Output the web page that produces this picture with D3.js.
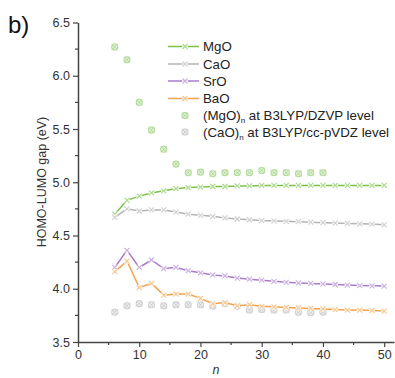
<!DOCTYPE html>
<html>
<head>
<meta charset="utf-8">
<script src="https://cdn.jsdelivr.net/npm/d3@7"></script>
<style>
  body { margin: 0; background: #fff; }
  svg { display: block; font-family: "Liberation Sans", Arial, sans-serif; }
</style>
</head>
<body>
<div id="chart"></div>
<script>
// n values (every 2 from 6 to 50)
const nLine = d3.range(6, 51, 2);
const mgo = [4.70, 4.83, 4.87, 4.90, 4.92, 4.94, 4.95, 4.955, 4.96, 4.96, 4.965, 4.965, 4.97, 4.97, 4.97, 4.97, 4.97, 4.97, 4.97, 4.97, 4.97, 4.97, 4.97];
const cao = [4.67, 4.75, 4.73, 4.74, 4.74, 4.72, 4.70, 4.69, 4.68, 4.665, 4.655, 4.648, 4.64, 4.636, 4.633, 4.63, 4.625, 4.62, 4.617, 4.613, 4.61, 4.607, 4.60];
const sro = [4.20, 4.36, 4.20, 4.27, 4.19, 4.20, 4.17, 4.15, 4.13, 4.12, 4.10, 4.09, 4.08, 4.07, 4.06, 4.055, 4.05, 4.045, 4.04, 4.035, 4.03, 4.027, 4.025];
const bao = [4.16, 4.26, 4.01, 4.05, 3.94, 3.95, 3.95, 3.91, 3.86, 3.87, 3.84, 3.85, 3.835, 3.83, 3.825, 3.82, 3.815, 3.81, 3.805, 3.80, 3.80, 3.795, 3.79];

// reference DFT points, n = 6..40
const nRef = d3.range(6, 41, 2);
const mgoRef = [6.27, 6.15, 5.75, 5.49, 5.31, 5.17, 5.09, 5.095, 5.08, 5.09, 5.09, 5.09, 5.11, 5.09, 5.09, 5.08, 5.09, 5.09];
const caoRef = [3.78, 3.84, 3.86, 3.85, 3.84, 3.85, 3.85, 3.85, 3.836, 3.86, 3.836, 3.80, 3.805, 3.80, 3.80, 3.78, 3.776, 3.78];

const lineSeries = [
  { name: 'MgO', values: mgo, color: '#7cc24a', mark: '#a9d98a' },
  { name: 'CaO', values: cao, color: '#b4b4b4', mark: '#cfcfcf' },
  { name: 'SrO', values: sro, color: '#a77cc8', mark: '#c9aee0' },
  { name: 'BaO', values: bao, color: '#f5a24c', mark: '#f8c48c' }
];
const refSeries = [
  { label: ['(MgO)', 'n', ' at B3LYP/DZVP level'], values: mgoRef, color: '#cfe8bf', stroke: '#a8d58c' },
  { label: ['(CaO)', 'n', ' at B3LYP/cc-pVDZ level'], values: caoRef, color: '#e2e2e2', stroke: '#c8c8c8' }
];

const xTicks = [0, 10, 20, 30, 40, 50];
const yTicks = [3.5, 4.0, 4.5, 5.0, 5.5, 6.0, 6.5];

const W = 395, H = 378;
const svg = d3.select('#chart').append('svg').attr('width', W).attr('height', H);

const x = d3.scaleLinear().domain([0, 51.6]).range([78, 394]);
const y = d3.scaleLinear().domain([3.5, 6.5]).range([342, 22.5]);
const axisColor = '#444';

// reference markers first (behind lines)
function refMarker(g, cx, cy, s) {
  g.append('rect').attr('x', cx - 3.5).attr('y', cy - 3.5).attr('width', 7).attr('height', 7)
    .attr('fill', s.color).attr('opacity', 0.6);
  g.append('circle').attr('cx', cx).attr('cy', cy).attr('r', 3.1)
    .attr('fill', 'none').attr('stroke', s.stroke).attr('stroke-width', 0.9);
  g.append('path').attr('d', `M${cx - 2.1},${cy - 2.1}L${cx + 2.1},${cy + 2.1}M${cx - 2.1},${cy + 2.1}L${cx + 2.1},${cy - 2.1}`)
    .attr('stroke', s.stroke).attr('stroke-width', 0.8);
}
const refG = svg.append('g');
refSeries.forEach(s => {
  s.values.forEach((v, i) => refMarker(refG, x(nRef[i]), y(v), s));
});

// lines with x markers
function lineMarker(g, cx, cy, s) {
  g.append('rect').attr('x', cx - 2.8).attr('y', cy - 2.8).attr('width', 5.6).attr('height', 5.6)
    .attr('fill', '#fff').attr('opacity', 0.85);
  g.append('path').attr('d', `M${cx - 2.5},${cy - 2.5}L${cx + 2.5},${cy + 2.5}M${cx - 2.5},${cy + 2.5}L${cx + 2.5},${cy - 2.5}`)
    .attr('stroke', s.mark).attr('stroke-width', 1.1);
}
const line = d3.line().x((d, i) => x(nLine[i])).y(d => y(d));
lineSeries.forEach(s => {
  const g = svg.append('g');
  g.append('path').datum(s.values).attr('d', line)
    .attr('fill', 'none').attr('stroke', s.color).attr('stroke-width', 1.5);
  s.values.forEach((v, i) => lineMarker(g, x(nLine[i]), y(v), s));
});

// axes
const xAxis = svg.append('g').attr('transform', 'translate(0,342)');
xAxis.call(d3.axisBottom(x).tickValues(xTicks).tickSize(5).tickSizeOuter(0).tickPadding(3));
xAxis.append('g').selectAll('line').data(d3.range(5, 50, 10)).enter().append('line')
  .attr('x1', d => x(d)).attr('x2', d => x(d)).attr('y1', 0).attr('y2', 3);

const yAxis = svg.append('g').attr('transform', 'translate(78,0)');
yAxis.call(d3.axisLeft(y).tickValues(yTicks).tickFormat(d3.format('.1f')).tickSize(5).tickSizeOuter(0).tickPadding(3));
yAxis.append('g').selectAll('line').data(d3.range(3.75, 6.5, 0.5)).enter().append('line')
  .attr('y1', d => y(d)).attr('y2', d => y(d)).attr('x1', 0).attr('x2', -3);

[xAxis, yAxis].forEach(a => {
  a.selectAll('path.domain').attr('stroke', axisColor).attr('stroke-width', 1.5);
  a.selectAll('line').attr('stroke', axisColor).attr('stroke-width', 1.2);
  a.selectAll('text').attr('fill', '#333').style('font-size', '12.5px').style('font-family', '"Liberation Sans", Arial, sans-serif');
});

// axis titles
svg.append('text').attr('transform', 'translate(46,182) rotate(-90)').attr('text-anchor', 'middle')
  .attr('fill', '#333').style('font-size', '12.5px').text('HOMO-LUMO gap (eV)');
svg.append('text').attr('x', 216).attr('y', 374).attr('text-anchor', 'middle')
  .attr('fill', '#333').style('font-size', '12.5px').style('font-style', 'italic').text('n');
svg.append('text').attr('x', 8).attr('y', 33).attr('fill', '#111')
  .style('font-size', '24px').text('b)');

// legend
const leg = svg.append('g');
const rowY = [46.5, 64, 81, 98.5, 115.5, 132];
lineSeries.forEach((s, i) => {
  const yy = rowY[i];
  leg.append('line').attr('x1', 168).attr('x2', 199).attr('y1', yy).attr('y2', yy)
    .attr('stroke', s.color).attr('stroke-width', 1.5);
  lineMarker(leg, 185, yy, s);
  leg.append('text').attr('x', 203).attr('y', yy + 4.5).attr('fill', '#222')
    .style('font-size', '13.3px').text(s.name);
});
refSeries.forEach((s, j) => {
  const yy = rowY[4 + j];
  refMarker(leg, 185, yy, s);
  const t = leg.append('text').attr('x', 203).attr('y', yy + 4.5).attr('fill', '#222').style('font-size', '13.3px');
  t.append('tspan').text(s.label[0]);
  t.append('tspan').attr('dy', 3).style('font-size', '8px').text(s.label[1]);
  t.append('tspan').attr('dy', -3).text(s.label[2]);
});
</script>
</body>
</html>
